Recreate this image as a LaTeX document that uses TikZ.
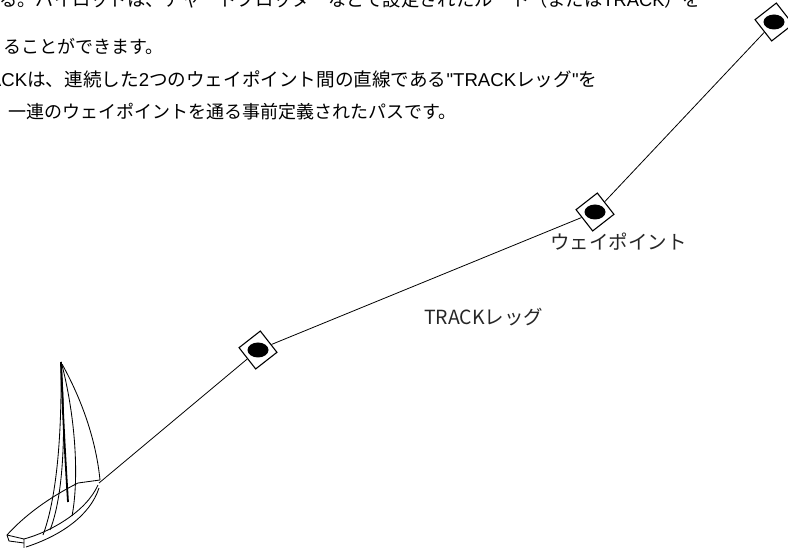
\documentclass[tikz,border=0pt]{standalone}
\usepackage{fontspec}
\setmainfont{Noto Sans CJK JP}
\newfontfamily\latinsans{Liberation Sans}
\usetikzlibrary{positioning}
\tikzset{waypt/.style = {draw, fill=white, rectangle, rotate=38, minimum size=27pt, inner sep=0, line width=1.1pt}}
\tikzset{leg/.style = {line width=0.8pt}}
\tikzset{hull/.style = {line width=0.85pt, line join=round}}
\tikzset{note/.style = {inner sep=0, font=\fontsize{18}{20}\selectfont}}
\tikzset{tag/.style = {anchor=base west, inner sep=0, text=black!85, font=\fontsize{19.5}{22}\selectfont}}
\newcommand{\lat}[1]{{\latinsans #1}}

\begin{document}
\begin{tikzpicture}[x=1pt, y=-1pt]
  \useasboundingbox (0,0) rectangle (788,548);
  \clip (0,0) rectangle (788,548);

  \node[note, anchor=base west, font=\fontsize{18.3}{20}\selectfont] (l1) at (-1,7) {る。パイロットは、チャートプロッターなどで設定されたルート（または\lat{TRACK}）を};
  \node[note, anchor=base west] (l2) at (3,54) {ることができます。};
  \node[note, anchor=base west, font=\fontsize{18.6}{20}\selectfont] (l3) at (-36,87) {\lat{TRACK}は、連続した\lat{2}つのウェイポイント間の直線である\lat{"TRACK}レッグ\lat{"}を};
  \node[note, anchor=base west] (l4) at (8,119) {一連のウェイポイントを通る事前定義されたパスです。};

  % sailboat
  \draw[hull] (7,535) .. controls (25,515) and (50,497) .. (78,483) -- (100,480);
  \draw[hull] (7,535) -- (24,539) -- (24,548);
  \draw[hull] (7,535) -- (9,541) -- (24,543);
  \draw[hull] (24,539) .. controls (50,532) and (86,512) .. (98,485);
  \draw[hull] (26,547) .. controls (60,536) and (90,516) .. (99,488);
  \draw[hull] (61,362) .. controls (62,440) and (56,500) .. (43,535);
  \draw[hull] (61,362) .. controls (67,440) and (62,500) .. (50,530);
  \draw[hull] (62,365) .. controls (76,420) and (79,480) .. (72,516);
  \draw[hull] (62,364) .. controls (82,400) and (96,440) .. (100,480);
  \draw[line width=1.8pt] (61,362) .. controls (63,420) and (66,470) .. (68,502);
  \coordinate (bow) at (99,483);

  % route
  \node[waypt] (wpA) at (258,350) {};
  \node[waypt] (wpB) at (595,212) {};
  \node[waypt] (wpC) at (774,22) {};
  \draw[leg] (bow) -- (wpA);
  \draw[leg] (wpA) -- (wpB);
  \draw[leg] (wpB) -- (wpC);
  \foreach \w in {wpA, wpB, wpC}
    \fill (\w) ellipse [x radius=10.5, y radius=7.5];

  \node[tag] (wplabel) at (550,250) {ウェイポイント};
  \node[tag] (leglabel) at (424,325) {TRACKレッグ};
\end{tikzpicture}
\end{document}
